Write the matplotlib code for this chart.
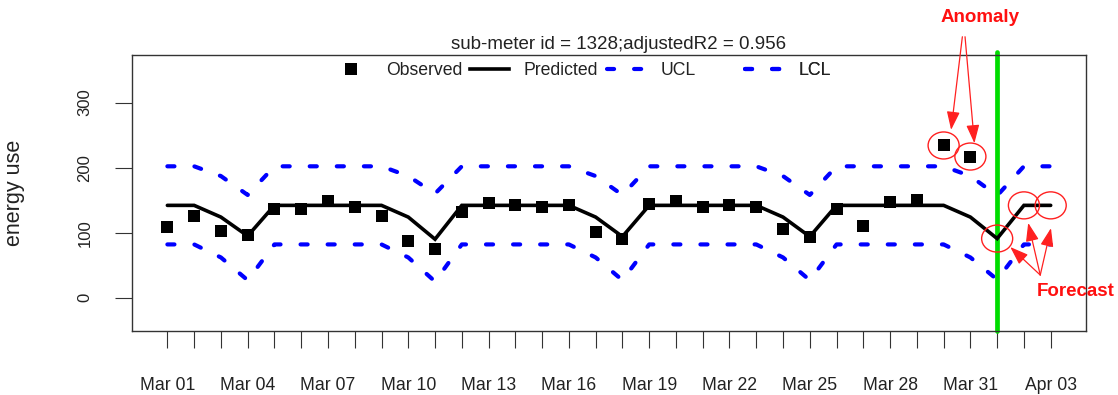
import numpy as np
import pandas as pd
import matplotlib
matplotlib.use("Agg")
import matplotlib.pyplot as plt
import matplotlib.transforms as mtransforms
from matplotlib.patches import Ellipse
from matplotlib.lines import Line2D

plt.rcParams['font.family'] = ['Liberation Sans', 'DejaVu Sans']

# ---------------- data ----------------
dates = pd.date_range('2013-03-01', '2013-04-03', freq='D')
tick_labels = [d.strftime('%b %d') if i % 3 == 0 else '' for i, d in enumerate(dates)]

observed = [109, 126, 103, 97, 137, 137, 149, 140, 126, 87, 75, 132, 146, 142, 140,
            142, 101, 90, 144, 149, 140, 142, 139, 106, 94, 136, 111, 147, 150, 234, 217]
predicted = [142, 142, 124, 95, 142, 142, 142, 142, 142, 124, 90, 142, 142, 142, 142,
             142, 124, 94, 142, 142, 142, 142, 142, 124, 94, 142, 142, 142, 142, 142,
             124, 91, 142, 142]
ucl = [202, 202, 187, 158, 202, 202, 202, 202, 202, 187, 160, 202, 202, 202, 202,
       202, 187, 158, 202, 202, 202, 202, 202, 187, 158, 202, 202, 202, 202, 202,
       187, 157, 202, 202]
lcl = [82, 82, 62, 27, 82, 82, 82, 82, 82, 62, 25, 82, 82, 82, 82,
       82, 62, 27, 82, 82, 82, 82, 82, 62, 27, 82, 82, 82, 82, 82,
       62, 28, 82, 82]
anomaly_days = [29, 30]
forecast_days = [31, 32, 33]
forecast_start = 31
title = 'sub-meter id = 1328;adjustedR2 = 0.956'

x_all = np.arange(len(dates))
x_obs = np.arange(len(observed))

# ---------------- figure ----------------
fig = plt.figure(figsize=(11.18, 3.95), dpi=100)
ax = fig.add_axes([0.1181, 0.1620, 0.8533, 0.6988])

dash = (0, (1.7, 4.8))
ax.plot(x_all, ucl, color='#0000ff', lw=3, ls=dash, dash_capstyle='round',
        dash_joinstyle='round', zorder=2)
ax.plot(x_all, lcl, color='#0000ff', lw=3, ls=dash, dash_capstyle='round',
        dash_joinstyle='round', zorder=2)

trans = mtransforms.blended_transform_factory(ax.transData, ax.transAxes)
ax.plot([forecast_start, forecast_start], [0, 1.012], transform=trans,
        color='#00dd00', lw=3.4, solid_capstyle='round', clip_on=False, zorder=2.5)

ax.plot(x_all, predicted, color='black', lw=2.6, solid_capstyle='round',
        solid_joinstyle='miter', zorder=3)
ax.plot(x_obs, observed, ls='none', marker='s', ms=8, mfc='black', mec='black',
        mew=0, zorder=4)

# ellipses
for i in anomaly_days:
    ax.add_patch(Ellipse((i, observed[i]), 1.16, 41.5, fill=False,
                         ec='#ff2020', lw=1.0, zorder=5))
for i in forecast_days:
    ax.add_patch(Ellipse((i, predicted[i]), 1.16, 41.5, fill=False,
                         ec='#ff2020', lw=1.0, zorder=5, clip_on=False))

arrow_kw = dict(arrowstyle='-|>,head_length=0.7,head_width=0.25', color='#ff2020',
                lw=0.9, shrinkA=0, shrinkB=0, mutation_scale=16)
for head, tail in [((29.28, 258), (29.70, 401)), ((30.15, 237.5), (29.80, 401))]:
    ax.annotate('', xy=head, xytext=tail, arrowprops=arrow_kw, annotation_clip=False)
for head in [(31.49, 78), (32.16, 115), (33.01, 107)]:
    ax.annotate('', xy=head, xytext=(32.61, 35), arrowprops=arrow_kw,
                annotation_clip=False)

ax.text(30.37, 430, 'Anomaly', color='#ff1010', fontweight='bold', fontsize=13.5,
        ha='center', va='center', clip_on=False)
ax.text(33.92, 9, 'Forecast', color='#ff1010', fontweight='bold', fontsize=13.5,
        ha='center', va='center', clip_on=False)

# axes
ax.set_xlim(-1.32, 34.32)
ax.set_ylim(-51, 373)
ax.set_xticks(x_all)
ax.set_xticklabels(tick_labels)
ax.set_yticks([0, 100, 200, 300])
ax.tick_params(axis='x', length=12, width=0.8, pad=21, labelsize=12.7,
               color='#333333', labelcolor='#222222')
ax.tick_params(axis='y', length=12.5, width=0.8, pad=16, labelsize=12,
               color='#333333', labelcolor='#222222', labelrotation=90)
for lab in ax.get_yticklabels():
    lab.set_va('center')
for s in ax.spines.values():
    s.set_color('#333333')
    s.set_linewidth(1.0)

ax.set_ylabel('energy use', fontsize=15.5, color='#222222')
ax.yaxis.set_label_coords(-0.1122, 0.5)
ax.set_title(title, fontsize=13.5, x=0.5105, pad=4, color='#222222')

# legend: evenly spaced entries like R horizontal legend
entries = [
    (Line2D([], [], ls='none', marker='s', ms=8, mfc='black', mec='black', mew=0), 'Observed'),
    (Line2D([], [], color='black', lw=2.6), 'Predicted'),
    (Line2D([], [], color='#0000ff', lw=3, ls=dash, dash_capstyle='round'), 'UCL'),
    (Line2D([], [], color='#0000ff', lw=3, ls=dash, dash_capstyle='round'), 'LCL'),
]
x_starts = [0.2096, 0.3543, 0.4979, 0.6426]
for (h, lab), xs in zip(entries, x_starts):
    leg = ax.legend([h], [lab], loc='center left', bbox_to_anchor=(xs, 0.943),
                    frameon=False, fontsize=12.7, handlelength=2.2,
                    handletextpad=0.85, borderpad=0, borderaxespad=0,
                    labelcolor='#222222')
    ax.add_artist(leg)

fig.savefig('out.png', dpi=100)
